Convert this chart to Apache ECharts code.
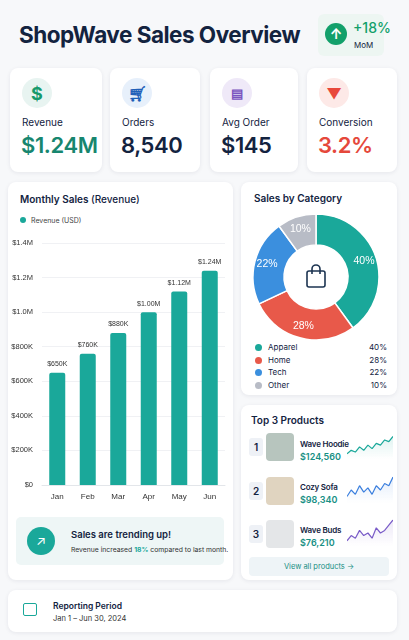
<!DOCTYPE html>
<html><head><meta charset="utf-8">
<script src="https://cdn.jsdelivr.net/npm/echarts@6/dist/echarts.min.js"></script>
<style>
body{margin:0;width:409px;height:640px;background:#f7f8fa;font-family:Inter,"Noto Sans",sans-serif;color:#13233f;position:relative;overflow:hidden}
.abs{position:absolute}
.card{position:absolute;background:#fff;border-radius:8px;box-shadow:0 1px 4px rgba(20,30,60,.08)}
.ic{position:absolute;left:12px;top:10px;width:30px;height:30px;border-radius:50%;display:flex;align-items:center;justify-content:center;font-weight:700;font-size:18px}
.lab{position:absolute;left:12px;top:48px;font-size:10px}
.val{position:absolute;left:11px;top:64px;font-size:22px;font-weight:600;letter-spacing:-.4px}
.lg{position:absolute;left:14px;font-size:8px;width:132px}
.lg i{display:inline-block;width:7px;height:7px;border-radius:50%;margin-right:6px;vertical-align:-1px}
.lg b{float:right;font-weight:400}
.num{position:absolute;left:8px;width:14px;height:18px;background:#eef1f6;border-radius:3px;font-size:10px;font-weight:600;text-align:center;line-height:18px}
.img{position:absolute;left:25px;width:28px;height:28px;border-radius:4px;background:#d9dcd8}
.pn{position:absolute;left:59px;font-size:8px;font-weight:600;letter-spacing:-.2px}
.pv{position:absolute;left:59px;font-size:9px;font-weight:600;color:#178f84}
.sp{position:absolute;left:106px;width:46px;height:30px}
</style></head><body>
<div class="abs" style="left:19px;top:21px;font-size:22.5px;font-weight:700;letter-spacing:-.5px">ShopWave Sales Overview</div>
<div class="abs" style="left:318px;top:14px;width:66px;height:42px;background:#edf6f2;border-radius:6px">
  <div class="abs" style="left:7px;top:9px;width:22px;height:22px;border-radius:50%;background:#12a06a;color:#fff;text-align:center;line-height:22px;font-size:14px;font-weight:700">↑</div>
  <div class="abs" style="left:35px;top:5px;font-size:14px;color:#12a06a;font-weight:500">+18%</div>
  <div class="abs" style="left:36px;top:26px;font-size:8px">MoM</div>
</div>

<div class="card" style="left:10px;top:68px;width:92px;height:104px"><div class="ic" style="background:#e8f4f1;color:#179a6c">$</div><div class="lab">Revenue</div><div class="val" style="color:#17866f">$1.24M</div></div>
<div class="card" style="left:110px;top:68px;width:90px;height:104px"><div class="ic" style="background:#e7f0fb;color:#1f5fb8;font-size:15px">🛒︎</div><div class="lab">Orders</div><div class="val">8,540</div></div>
<div class="card" style="left:210px;top:68px;width:88px;height:104px"><div class="ic" style="background:#efe9f8;color:#7a55c0;font-size:13px">▤</div><div class="lab">Avg Order</div><div class="val">$145</div></div>
<div class="card" style="left:307px;top:68px;width:90px;height:104px"><div class="ic" style="background:#fde9e7;color:#e8473a;font-size:15px">▼</div><div class="lab">Conversion</div><div class="val" style="color:#e5483b">3.2%</div></div>

<div class="card" style="left:8px;top:182px;width:225px;height:398px">
  <div class="abs" style="left:12px;top:11px;font-size:10px;font-weight:600">Monthly Sales <span style="font-weight:500">(Revenue)</span></div>
  <div class="abs" style="left:12px;top:34px;font-size:7px;color:#444"><i style="display:inline-block;width:6px;height:6px;border-radius:50%;background:#1aa89a;margin-right:5px"></i>Revenue (USD)</div>
  <div class="abs" style="left:8px;top:335px;width:208px;height:48px;background:#eef6f6;border-radius:5px">
    <div class="abs" style="left:11px;top:10px;width:28px;height:28px;border-radius:50%;background:#1aa89a;color:#fff;text-align:center;line-height:28px;font-size:13px">↗</div>
    <div class="abs" style="left:55px;top:12px;font-size:9.5px;font-weight:600">Sales are trending up!</div>
    <div class="abs" style="left:55px;top:28px;font-size:6.8px;color:#333;white-space:nowrap">Revenue increased <b style="color:#1aa89a">18%</b> compared to last month.</div>
  </div>
</div>
<div id="bar" class="abs" style="left:8px;top:232px;width:225px;height:275px"></div>

<div class="card" style="left:241px;top:182px;width:156px;height:213px">
  <div class="abs" style="left:13px;top:10px;font-size:10px;font-weight:600">Sales by Category</div>
  <div class="lg" style="top:160px"><i style="background:#1aa89a"></i>Apparel<b>40%</b></div>
  <div class="lg" style="top:173px"><i style="background:#e8594a"></i>Home<b>28%</b></div>
  <div class="lg" style="top:185px"><i style="background:#3b8fde"></i>Tech<b>22%</b></div>
  <div class="lg" style="top:198px"><i style="background:#b8bcc6"></i>Other<b>10%</b></div>
</div>
<div id="pie" class="abs" style="left:241px;top:210px;width:156px;height:135px"></div>
<svg class="abs" style="left:305px;top:263px" width="22" height="26" viewBox="0 0 22 26"><rect x="2" y="8" width="18" height="16" rx="2" fill="none" stroke="#1d3552" stroke-width="1.6"/><path d="M7 11V6a4 4 0 0 1 8 0v5" fill="none" stroke="#1d3552" stroke-width="1.6"/></svg>

<div class="card" style="left:241px;top:405px;width:156px;height:175px">
  <div class="abs" style="left:10px;top:9px;font-size:10px;font-weight:600">Top 3 Products</div>
  <div class="num" style="top:33px">1</div><div class="img" style="top:28px;background:#b7c5be"></div><div class="pn" style="top:34px">Wave Hoodie</div><div class="pv" style="top:46px">$124,560</div>
  <div class="num" style="top:77px">2</div><div class="img" style="top:72px;background:#e0d4c0"></div><div class="pn" style="top:77px">Cozy Sofa</div><div class="pv" style="top:89px">$98,340</div>
  <div class="num" style="top:120px">3</div><div class="img" style="top:115px;background:#e4e6e8"></div><div class="pn" style="top:120px">Wave Buds</div><div class="pv" style="top:132px">$76,210</div>
  <div class="sp" id="s1" style="top:26px"></div><div class="sp" id="s2" style="top:70px"></div><div class="sp" id="s3" style="top:113px"></div>
  <div class="abs" style="left:8px;top:152px;width:140px;height:19px;background:#eef4f7;border-radius:4px;text-align:center;line-height:19px;font-size:7.5px;color:#178f84">View all products →</div>
</div>

<div class="card" style="left:8px;top:590px;width:389px;height:42px">
  <div class="abs" style="left:15px;top:13px;width:14px;height:13px;border:1.5px solid #1aa89a;border-radius:2px;box-sizing:border-box"></div>
  <div class="abs" style="left:45px;top:11px;font-size:8.5px;font-weight:600">Reporting Period</div>
  <div class="abs" style="left:45px;top:24px;font-size:7.5px;color:#333">Jan 1 – Jun 30, 2024</div>
</div>

<script>
const months = ['Jan','Feb','Mar','Apr','May','Jun'];
const revenue = [650000, 760000, 880000, 1000000, 1120000, 1240000];
const revenueLabels = ['$650K','$760K','$880K','$1.00M','$1.12M','$1.24M'];
const categories = ['Apparel','Home','Tech','Other'];
const categoryShare = [40, 28, 22, 10];
const categoryColors = ['#1aa89a','#e8594a','#3b8fde','#b8bcc6'];
const hoodieTrend = [3,5,4,7,5,8,6,9,8,11,10,13];
const sofaTrend = [3,6,4,8,5,7,4,8,6,9,8,12];
const budsTrend = [2,4,3,6,4,5,3,7,5,6,8,10];

const fmtY = v => v === 0 ? '$0' : v >= 1000000 ? '$' + (v/1000000).toFixed(1) + 'M' : '$' + (v/1000) + 'K';

echarts.init(document.getElementById('bar')).setOption({
  animation: false,
  grid: {left: 34, right: 8, top: 11, bottom: 22},
  xAxis: {type: 'category', data: months, axisTick: {show: false},
    axisLine: {lineStyle: {color: '#e3e6ea'}}, axisLabel: {fontSize: 8, color: '#333', margin: 8}},
  yAxis: {type: 'value', min: 0, max: 1400000, interval: 200000,
    axisLabel: {formatter: fmtY, fontSize: 7.5, color: '#333', margin: 9},
    splitLine: {lineStyle: {color: '#f0f1f4'}}},
  series: [{type: 'bar', data: revenue, barWidth: 16,
    itemStyle: {color: '#1aa89a', borderRadius: [2,2,0,0]},
    label: {show: true, position: 'top', fontSize: 7, color: '#333',
      formatter: p => revenueLabels[p.dataIndex]}}]
});

echarts.init(document.getElementById('pie')).setOption({
  animation: false,
  series: [{type: 'pie', center: [75, 67], radius: [32, 63], startAngle: 90,
    data: categories.map((n, i) => ({name: n, value: categoryShare[i], itemStyle: {color: categoryColors[i]}})),
    itemStyle: {borderColor: '#fff', borderWidth: 1.5},
    label: {show: true, position: 'inside', color: '#fff', fontSize: 10.5, formatter: '{c}%'},
    labelLine: {show: false}}]
});

function spark(id, data, color) {
  echarts.init(document.getElementById(id)).setOption({
    animation: false,
    grid: {left: 0, right: 0, top: 2, bottom: 2},
    xAxis: {type: 'category', show: false, boundaryGap: false, data: data.map((_, i) => i)},
    yAxis: {type: 'value', show: false, min: 0},
    series: [{type: 'line', data: data, symbol: 'none', lineStyle: {color: color, width: 1.2},
      areaStyle: {color: new echarts.graphic.LinearGradient(0,0,0,1,[{offset:0,color:color+'33'},{offset:1,color:color+'00'}])}}]
  });
}
spark('s1', hoodieTrend, '#1aa89a');
spark('s2', sofaTrend, '#3b7fde');
spark('s3', budsTrend, '#7a5cc8');
</script>
</body></html>
